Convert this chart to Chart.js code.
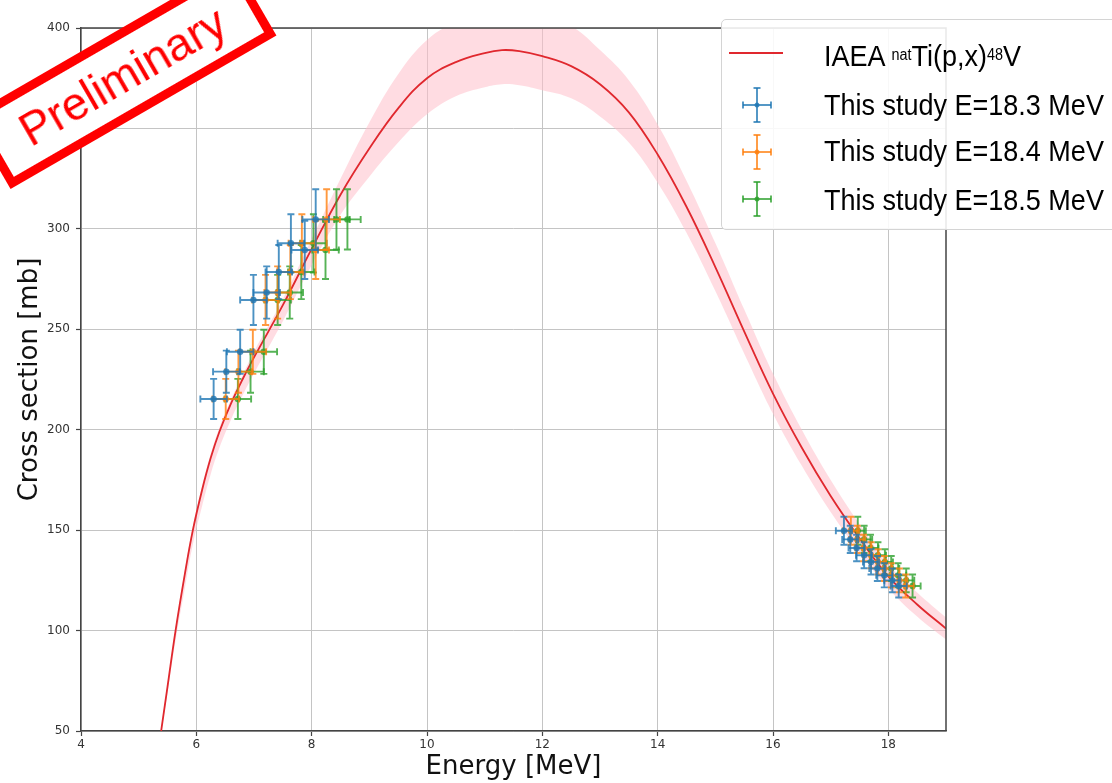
<!DOCTYPE html>
<html>
<head>
<meta charset="utf-8">
<script src="https://cdn.jsdelivr.net/npm/chart.js@4.4.1/dist/chart.umd.min.js"></script>
<style>
  html, body { margin:0; padding:0; background:#fff; overflow:hidden; }
  #wrap { position:relative; width:1112px; height:783px; overflow:hidden; }
  #c { position:absolute; left:0; top:0; }
  #legend { position:absolute; left:721px; top:19px; width:420px; height:211px; box-sizing:border-box;
            border:1px solid #d4d4d4; border-radius:5px; background:rgba(255,255,255,0.88); }
  .ltxt { position:absolute; left:824px; font-family:'Liberation Sans', Arial, sans-serif; font-size:30px;
          line-height:30px; color:#000; white-space:nowrap; transform:scaleX(0.9); transform-origin:0 0; }
  .ltxt sup { font-size:16px; vertical-align:6px; line-height:0; }
  .licon { position:absolute; }
  #stamp { position:absolute; left:-31px; top:34px; width:307px; height:84px; box-sizing:border-box;
           border:9px solid #ff0000; background:#fff; transform:rotate(-30deg); transform-origin:50% 50%;
           color:#ff0000; font-family:'Liberation Sans', Arial, sans-serif; font-size:46px;
           display:flex; align-items:center; justify-content:center; white-space:nowrap; }
</style>
</head>
<body>
<div id="wrap">
  <canvas id="c" width="1112" height="783"></canvas>
  <div id="legend"></div>
  <svg class="licon" style="left:725px;top:45px" width="62" height="16"><line x1="4" y1="8" x2="58" y2="8" stroke="#e0282e" stroke-width="2.2"/></svg>
  <div class="ltxt" style="top:40.6px">IAEA <sup>nat</sup>Ti(p,x)<sup>48</sup>V</div>
  <svg id="ic1" class="licon" style="left:737px;top:84px" width="40" height="42"></svg>
  <div class="ltxt" style="top:89.6px">This study E=18.3 MeV</div>
  <svg id="ic2" class="licon" style="left:737px;top:131px" width="40" height="42"></svg>
  <div class="ltxt" style="top:136.3px">This study E=18.4 MeV</div>
  <svg id="ic3" class="licon" style="left:737px;top:178px" width="40" height="42"></svg>
  <div class="ltxt" style="top:184.6px">This study E=18.5 MeV</div>
  <div id="stamp">Preliminary</div>
</div>
<script>
// ---------------- data ----------------
const xTicks = [4, 6, 8, 10, 12, 14, 16, 18];
const yTicks = [50, 100, 150, 200, 250, 300, 350, 400];

// IAEA recommended curve natTi(p,x)48V and its uncertainty band
const curveE     = [5.39, 5.5, 5.64, 5.8, 5.94, 6.1, 6.25, 6.4, 6.6, 6.8, 7.0, 7.5, 8.0, 8.5, 9.0, 9.5, 10.0, 10.5, 11.0, 11.3, 11.6, 12.0, 12.5, 13.0, 13.5, 14.0, 14.5, 15.0, 15.5, 16.0, 16.5, 17.0, 17.5, 18.0, 18.5, 19.0];
const curveSigma = [50, 72, 100, 128, 150, 170, 186, 199, 213, 225, 236, 262, 290, 317, 340, 360, 375, 383, 387.5, 389, 388.5, 386, 381, 372, 358, 337, 311, 281, 249, 218, 191, 167, 146, 127, 113, 101];
const bandUpper  = [51, 73, 101, 130, 152, 172, 188, 201, 215, 227, 239, 265, 295, 325, 353, 377, 394, 403, 407.5, 409, 408.5, 406, 401, 389, 374, 352, 324, 293, 260, 228, 200, 175, 153, 133, 119, 106.5];
const bandLower  = [49, 69, 95, 121, 143, 162, 178, 191, 205, 217, 228, 254, 282, 307, 326, 343, 357, 366, 370.5, 372, 371.5, 369, 365, 356, 343, 323, 298, 269, 238, 208, 182, 159, 139, 121, 107, 95.5];

// This study, beam E = 18.3 MeV
const e183      = [6.30, 6.52, 6.76, 6.99, 7.22, 7.43, 7.64, 7.88, 8.07, 17.23, 17.34, 17.45, 17.58, 17.70, 17.81, 17.93, 18.07, 18.18];
const sigma183  = [215.3, 228.9, 238.8, 264.6, 268.3, 278.5, 292.8, 289.5, 304.7, 149.7, 145.4, 141.1, 137.5, 134.2, 130.9, 127.5, 125.0, 122.2];
const dE183     = [0.23, 0.23, 0.23, 0.23, 0.23, 0.23, 0.23, 0.23, 0.23, 0.14, 0.14, 0.14, 0.14, 0.14, 0.14, 0.14, 0.14, 0.14];
const dSigma183 = [10, 10.5, 11, 12.5, 13, 13.5, 14.5, 14.5, 15, 7, 6.8, 6.6, 6.5, 6.3, 6.2, 6, 5.9, 5.7];

// This study, beam E = 18.4 MeV
const e184      = [6.51, 6.73, 6.98, 7.20, 7.41, 7.63, 7.83, 8.07, 8.26, 17.35, 17.46, 17.57, 17.70, 17.82, 17.93, 18.05, 18.19, 18.30];
const sigma184  = [215.3, 228.9, 238.8, 264.6, 268.3, 278.5, 292.8, 289.5, 304.7, 149.7, 145.4, 141.1, 137.5, 134.2, 130.9, 127.5, 125.0, 122.2];
const dE184     = [0.23, 0.23, 0.23, 0.23, 0.23, 0.23, 0.23, 0.23, 0.23, 0.14, 0.14, 0.14, 0.14, 0.14, 0.14, 0.14, 0.14, 0.14];
const dSigma184 = [10, 10.5, 11, 12.5, 13, 13.5, 14.5, 14.5, 15, 7, 6.8, 6.6, 6.5, 6.3, 6.2, 6, 5.9, 5.7];

// This study, beam E = 18.5 MeV
const e185      = [6.72, 6.94, 7.17, 7.41, 7.62, 7.82, 8.03, 8.24, 8.43, 8.62, 17.47, 17.58, 17.69, 17.82, 17.94, 18.05, 18.17, 18.31, 18.42];
const sigma185  = [215.3, 228.9, 238.8, 264.6, 268.3, 278.5, 292.8, 289.5, 304.7, 304.7, 149.7, 145.4, 141.1, 137.5, 134.2, 130.9, 127.5, 125.0, 122.2];
const dE185     = [0.23, 0.23, 0.23, 0.23, 0.23, 0.23, 0.23, 0.23, 0.23, 0.23, 0.14, 0.14, 0.14, 0.14, 0.14, 0.14, 0.14, 0.14, 0.14];
const dSigma185 = [10, 10.5, 11, 12.5, 13, 13.5, 14.5, 14.5, 15, 15, 7, 6.8, 6.6, 6.5, 6.3, 6.2, 6, 5.9, 5.7];

// ---------------- styles ----------------
const BLUE = 'rgba(31,119,180,0.8)', ORANGE = 'rgba(255,127,14,0.8)', GREEN = 'rgba(44,160,44,0.8)';

function pts(xs, ys) { return xs.map((x, i) => ({x: x, y: ys[i]})); }

function studySet(label, xs, ys, dx, dy, color) {
  return { label, data: pts(xs, ys), xErr: dx, yErr: dy, errColor: color,
           backgroundColor: color, borderColor: color, pointRadius: 3.2, pointBorderWidth: 0,
           showLine: false, order: 0 };
}

const errorBars = {
  id: 'errorBars',
  beforeDatasetDraw(chart, args) {
    const ds = chart.data.datasets[args.index];
    if (!ds.xErr) return;
    const {ctx, chartArea: a} = chart;
    const xs = chart.scales.x, ys = chart.scales.y;
    const cap = 3.5;
    ctx.save();
    ctx.beginPath(); ctx.rect(a.left, a.top, a.right - a.left, a.bottom - a.top); ctx.clip();
    ctx.strokeStyle = ds.errColor; ctx.lineWidth = 1.9;
    ds.data.forEach((p, i) => {
      const x = xs.getPixelForValue(p.x), y = ys.getPixelForValue(p.y);
      const x0 = xs.getPixelForValue(p.x - ds.xErr[i]), x1 = xs.getPixelForValue(p.x + ds.xErr[i]);
      const y0 = ys.getPixelForValue(p.y - ds.yErr[i]), y1 = ys.getPixelForValue(p.y + ds.yErr[i]);
      ctx.beginPath();
      ctx.moveTo(x0, y); ctx.lineTo(x1, y);
      ctx.moveTo(x, y0); ctx.lineTo(x, y1);
      ctx.moveTo(x0, y - cap); ctx.lineTo(x0, y + cap);
      ctx.moveTo(x1, y - cap); ctx.lineTo(x1, y + cap);
      ctx.moveTo(x - cap, y0); ctx.lineTo(x + cap, y0);
      ctx.moveTo(x - cap, y1); ctx.lineTo(x + cap, y1);
      ctx.stroke();
    });
    ctx.restore();
  }
};

const frame = {
  id: 'frame',
  afterDatasetsDraw(chart) {
    const {ctx, chartArea: a} = chart;
    ctx.save();
    ctx.strokeStyle = '#444'; ctx.lineWidth = 1.5;
    ctx.beginPath();
    ctx.moveTo(a.left, a.top); ctx.lineTo(a.right, a.top); ctx.lineTo(a.right, a.bottom);
    ctx.stroke();
    ctx.restore();
  }
};

const tickFont = {family: "'DejaVu Sans', sans-serif", size: 12};
const titleFont = {family: "'DejaVu Sans', sans-serif", size: 26};

new Chart(document.getElementById('c'), {
  type: 'scatter',
  data: {
    datasets: [
      studySet('This study E=18.3 MeV', e183, sigma183, dE183, dSigma183, BLUE),
      studySet('This study E=18.4 MeV', e184, sigma184, dE184, dSigma184, ORANGE),
      studySet('This study E=18.5 MeV', e185, sigma185, dE185, dSigma185, GREEN),
      { label: 'IAEA natTi(p,x)48V', data: pts(curveE, curveSigma), showLine: true, pointRadius: 0,
        borderColor: 'rgba(224,40,46,1)', borderWidth: 1.8, tension: 0.4, order: 5 },
      { label: 'band upper', data: pts(curveE, bandUpper), showLine: true, pointRadius: 0, borderWidth: 0,
        borderColor: 'rgba(0,0,0,0)', backgroundColor: 'rgba(255,192,203,0.55)', fill: '+1',
        tension: 0.4, order: 10 },
      { label: 'band lower', data: pts(curveE, bandLower), showLine: true, pointRadius: 0, borderWidth: 0,
        borderColor: 'rgba(0,0,0,0)', fill: false, tension: 0.4, order: 11 }
    ]
  },
  options: {
    responsive: false,
    animation: false,
    layout: { padding: { left: 0, right: 166, top: 28, bottom: 0 } },
    plugins: { legend: { display: false }, tooltip: { enabled: false } },
    scales: {
      x: {
        type: 'linear', min: 4, max: 19,
        afterBuildTicks: s => { s.ticks = xTicks.map(v => ({value: v})); },
        afterFit: s => { s.height = 52; },
        grid: { color: '#c4c4c4', lineWidth: 1, tickLength: 5, tickColor: '#444', tickWidth: 1.2 },
        border: { display: true, color: '#444', width: 1.5 },
        ticks: { font: tickFont, color: '#333', padding: 2, maxRotation: 0 },
        title: { display: true, text: 'Energy [MeV]', font: titleFont, color: '#111', padding: { top: 0, bottom: 0 } }
      },
      y: {
        type: 'linear', min: 50, max: 400,
        afterBuildTicks: s => { s.ticks = yTicks.map(v => ({value: v})); },
        afterFit: s => { s.width = 81; },
        grid: { color: '#c4c4c4', lineWidth: 1, tickLength: 5, tickColor: '#444', tickWidth: 1.2 },
        border: { display: true, color: '#444', width: 1.5 },
        ticks: { font: tickFont, color: '#333', padding: 6 },
        title: { display: true, text: 'Cross section [mb]', font: titleFont, color: '#111', padding: { top: 15, bottom: 0 } }
      }
    }
  },
  plugins: [errorBars, frame]
});

// legend icons (error-bar glyphs)
function drawIcon(id, color) {
  const svg = document.getElementById(id);
  const cx = 20, cy = 21, hx = 14, hy = 17, c = 3.5;
  const segs = [[cx-hx,cy,cx+hx,cy],[cx,cy-hy,cx,cy+hy],[cx-hx,cy-c,cx-hx,cy+c],[cx+hx,cy-c,cx+hx,cy+c],
                [cx-c,cy-hy,cx+c,cy-hy],[cx-c,cy+hy,cx+c,cy+hy]];
  svg.innerHTML = segs.map(s => `<line x1="${s[0]}" y1="${s[1]}" x2="${s[2]}" y2="${s[3]}" stroke="${color}" stroke-width="1.9"/>`).join('') +
                  `<circle cx="${cx}" cy="${cy}" r="2.5" fill="${color}"/>`;
}
drawIcon('ic1', BLUE); drawIcon('ic2', ORANGE); drawIcon('ic3', GREEN);
</script>
</body>
</html>
